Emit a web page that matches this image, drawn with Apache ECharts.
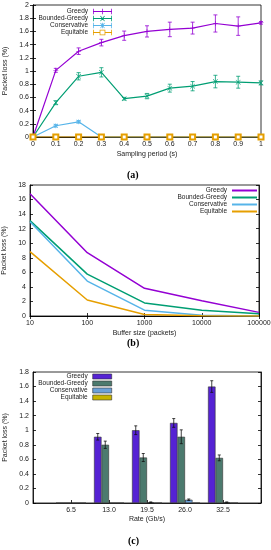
<!DOCTYPE html>
<html><head><meta charset="utf-8">
<script src="https://cdn.jsdelivr.net/npm/echarts@6/dist/echarts.min.js"></script>
<style>html,body{margin:0;padding:0;background:#fff}#c{width:271px;height:550px}</style>
</head><body><div id="c"></div>
<script>
// ---------- (a) data ----------
const periods = [0, 0.1, 0.2, 0.3, 0.4, 0.5, 0.6, 0.7, 0.8, 0.9, 1.0];
const greedyA = [0, 1.01, 1.30, 1.43, 1.535, 1.60, 1.63, 1.65, 1.72, 1.68, 1.73];
const greedyAErr = [0, 0.03, 0.05, 0.05, 0.07, 0.085, 0.11, 0.09, 0.13, 0.14, 0.02];
const boundedA = [0, 0.52, 0.92, 0.98, 0.58, 0.62, 0.74, 0.77, 0.84, 0.83, 0.82];
const boundedAErr = [0, 0.03, 0.055, 0.07, 0.02, 0.04, 0.06, 0.07, 0.095, 0.09, 0.03];
const conservA = [0, 0.17, 0.23, 0, 0, 0, 0, 0, 0, 0, 0];
const conservAErr = [0, 0.02, 0.02, 0, 0, 0, 0, 0, 0, 0, 0];
const equitA = [0, 0, 0, 0, 0, 0, 0, 0, 0, 0, 0];
const equitAErr = [0, 0, 0, 0, 0, 0, 0, 0, 0, 0, 0];

// ---------- (b) data ----------
const bufferSizes = [10, 100, 1000, 10000, 100000];
const greedyB = [16.8, 8.7, 3.8, 2.1, 0.5];
const boundedB = [13.1, 5.75, 1.8, 0.8, 0.3];
const conservB = [12.95, 4.8, 0.8, 0.1, 0.0];
const equitB = [8.85, 2.2, 0.2, 0.05, 0.0];

// ---------- (c) data ----------
const rates = ['6.5', '13.0', '19.5', '26.0', '32.5'];
const greedyC = [0, 0.91, 1.0, 1.10, 1.60];
const greedyCErr = [0, 0.045, 0.06, 0.06, 0.08];
const boundedC = [0, 0.80, 0.625, 0.91, 0.62];
const boundedCErr = [0, 0.05, 0.055, 0.095, 0.04];
const conservC = [0, 0, 0.01, 0.045, 0.01];
const conservCErr = [0, 0, 0.005, 0.01, 0.005];
const equitC = [0, 0, 0, 0, 0];

const names = ['Greedy', 'Bounded-Greedy', 'Conservative', 'Equitable'];
const colA = ['#9400d3', '#009e73', '#56b4e9', '#e69f00'];
const colC = ['#5522d4', '#4c7a6e', '#6aa0d8', '#c8b400'];

const FONT = 'Liberation Sans';
const tickFont = {fontSize: 7, color: '#222', fontFamily: FONT};
const nameFont = {fontSize: 7, color: '#222', fontFamily: FONT};
const legFont = {fontSize: 6.5, color: '#222', fontFamily: FONT};

function pairs(xs, ys) { return xs.map((x, i) => [x, ys[i]]); }
function triples(xs, ys, es) { return xs.map((x, i) => [x, ys[i], es[i]]); }

function errRender(color, cap, offset) {
  return function (params, api) {
    const e = api.value(2);
    if (!e) return null;
    const x = api.value(0), y = api.value(1);
    const hi = api.coord([x, y + e]), lo = api.coord([x, y - e]);
    const cx = hi[0] + (offset || 0);
    const st = {stroke: color, lineWidth: 0.8};
    return {type: 'group', children: [
      {type: 'line', shape: {x1: cx, y1: hi[1], x2: cx, y2: lo[1]}, style: st},
      {type: 'line', shape: {x1: cx - cap, y1: hi[1], x2: cx + cap, y2: hi[1]}, style: st},
      {type: 'line', shape: {x1: cx - cap, y1: lo[1], x2: cx + cap, y2: lo[1]}, style: st}
    ]};
  };
}

// symbols / legend icons (styles)
const symPlus = 'path://M0,4.5h10v1h-10z M4.5,0h1v10h-1z';
const symCross = 'path://M0.7,0L10,9.3L9.3,10L0,0.7Z M9.3,0L10,0.7L0.7,10L0,9.3Z';
const symStar = 'path://M0,4.5h10v1h-10z M4.5,0h1v10h-1z M1.2,0.5L9.5,8.8L8.8,9.5L0.5,1.2Z M8.8,0.5L9.5,1.2L1.2,9.5L0.5,8.8Z';
const caps = 'M0,0h0.8v6h-0.8z M19.2,0h0.8v6h-0.8z';
const iconA = [
  'path://M0,2.6h20v0.8h-20z ' + caps + ' M9.6,0h0.8v6h-0.8z',
  'path://M0,2.6h20v0.8h-20z ' + caps + ' M7.5,0.5L8.2,0L12.5,5.5L11.8,6Z M11.8,0L12.5,0.5L8.2,6L7.5,5.5Z',
  'path://M0,2.6h20v0.8h-20z ' + caps + ' M9.6,0h0.8v6h-0.8z M7.5,0.5L8.2,0L12.5,5.5L11.8,6Z M11.8,0L12.5,0.5L8.2,6L7.5,5.5Z',
  'path://M0,2.6h7v0.8h-7z M13,2.6h7v0.8h-7z ' + caps + ' M7,0h6v6h-6z M7.8,0.8v4.4h4.4v-4.4z'
];
const iconB = 'path://M0,0h25v2h-25z';
const symA = [symPlus, symCross, symStar, 'emptyRect'];

const gbase = {show: true, borderColor: '#000', borderWidth: 0.8, containLabel: false, outerBoundsMode: 'none'};
const grids = [
  Object.assign({left: 33, right: 10, top: 5, height: 132}, gbase),
  Object.assign({left: 30, right: 12, top: 185, height: 131}, gbase),
  Object.assign({left: 33, right: 10, top: 372, height: 131}, gbase)
];

const axLine = {show: true, lineStyle: {color: '#000', width: 0.8}};
const axTick = {show: true, inside: true, length: 3, lineStyle: {color: '#000', width: 0.8}};

const xAxes = [
  {type: 'value', gridIndex: 0, min: 0, max: 1, interval: 0.1, axisLine: axLine, axisTick: axTick,
   splitLine: {show: false}, axisLabel: Object.assign({margin: 4, hideOverlap: false}, tickFont),
   name: 'Sampling period (s)', nameLocation: 'middle', nameGap: 14, nameTextStyle: nameFont},
  {type: 'value', gridIndex: 0, position: 'top', min: 0, max: 1, interval: 0.1, axisLine: axLine, axisTick: axTick,
   splitLine: {show: false}, axisLabel: {show: false}},
  {type: 'log', logBase: 10, gridIndex: 1, min: 10, max: 100000, axisLine: axLine, axisTick: axTick,
   splitLine: {show: false}, axisLabel: Object.assign({margin: 4, hideOverlap: false, formatter: v => String(Math.round(v))}, tickFont),
   name: 'Buffer size (packets)', nameLocation: 'middle', nameGap: 14, nameTextStyle: nameFont},
  {type: 'log', logBase: 10, gridIndex: 1, position: 'top', min: 10, max: 100000, axisLine: axLine, axisTick: axTick,
   splitLine: {show: false}, axisLabel: {show: false}},
  {type: 'category', gridIndex: 2, boundaryGap: false, data: [''].concat(rates, ['']),
   axisLine: axLine, axisTick: Object.assign({}, axTick, {alignWithLabel: true}),
   splitLine: {show: false}, axisLabel: Object.assign({margin: 4, interval: 0}, tickFont),
   name: 'Rate (Gb/s)', nameLocation: 'middle', nameGap: 13, nameTextStyle: nameFont}
];

const yAxes = [
  {type: 'value', gridIndex: 0, min: 0, max: 2, interval: 0.2, axisLine: axLine, axisTick: axTick,
   splitLine: {show: false}, axisLabel: Object.assign({margin: 4}, tickFont),
   name: 'Packet loss (%)', nameLocation: 'middle', nameGap: 22, nameTextStyle: nameFont},
  {type: 'value', gridIndex: 0, position: 'right', min: 0, max: 2, interval: 0.2, axisLine: axLine, axisTick: axTick,
   splitLine: {show: false}, axisLabel: {show: false}},
  {type: 'value', gridIndex: 1, min: 0, max: 18, interval: 2, axisLine: axLine, axisTick: axTick,
   splitLine: {show: false}, axisLabel: Object.assign({margin: 4}, tickFont),
   name: 'Packet loss (%)', nameLocation: 'middle', nameGap: 19, nameTextStyle: nameFont},
  {type: 'value', gridIndex: 1, position: 'right', min: 0, max: 18, interval: 2, axisLine: axLine, axisTick: axTick,
   splitLine: {show: false}, axisLabel: {show: false}},
  {type: 'value', gridIndex: 2, min: 0, max: 1.8, interval: 0.2, axisLine: axLine, axisTick: axTick,
   splitLine: {show: false}, axisLabel: Object.assign({margin: 4}, tickFont),
   name: 'Packet loss (%)', nameLocation: 'middle', nameGap: 22, nameTextStyle: nameFont},
  {type: 'value', gridIndex: 2, position: 'right', min: 0, max: 1.8, interval: 0.2, axisLine: axLine, axisTick: axTick,
   splitLine: {show: false}, axisLabel: {show: false}}
];

const series = [];
const legends = [];

// (a)
const aVals = [greedyA, boundedA, conservA, equitA];
const aErrs = [greedyAErr, boundedAErr, conservAErr, equitAErr];
aVals.forEach((vals, i) => {
  series.push({type: 'custom', name: 'errA' + i, xAxisIndex: 0, yAxisIndex: 0, silent: true, color: colA[i],
    renderItem: errRender(colA[i], 2), data: triples(periods, vals, aErrs[i]), encode: {x: 0, y: 1}, z: 2});
  series.push({type: 'line', name: names[i] + ' (a)', xAxisIndex: 0, yAxisIndex: 0, data: pairs(periods, vals),
    color: colA[i], lineStyle: {width: 1.2, color: colA[i]}, symbol: symA[i], symbolSize: 5,
    itemStyle: {color: colA[i], borderWidth: i === 3 ? 0.8 : 0, borderColor: colA[i]}, showSymbol: true, z: 3, animation: false});
  legends.push({data: [{name: names[i] + ' (a)', icon: iconA[i]}], right: 159, top: [8, 15, 22, 29][i], align: 'right',
    padding: 0, itemWidth: 19, itemHeight: 6, itemStyle: {borderWidth: 0, color: colA[i]}, textStyle: legFont,
    formatter: n => n.replace(' (a)', ''), selectedMode: false});
});

// (b)
const bVals = [greedyB, boundedB, conservB, equitB];
bVals.forEach((vals, i) => {
  series.push({type: 'line', name: names[i] + ' (b)', xAxisIndex: 2, yAxisIndex: 2, data: pairs(bufferSizes, vals),
    color: colA[i], lineStyle: {width: 1.5, color: colA[i]}, symbol: 'none', animation: false});
  legends.push({data: [{name: names[i] + ' (b)', icon: iconB}], right: 14, top: [187, 194, 201, 208][i], align: 'right',
    padding: 0, itemWidth: 25, itemHeight: 2, itemStyle: {borderWidth: 0, color: colA[i]}, textStyle: legFont,
    formatter: n => n.replace(' (b)', ''), selectedMode: false});
});

// (c)
const cVals = [greedyC, boundedC, conservC, equitC];
const cErrs = [greedyCErr, boundedCErr, conservCErr, null];
const cOffsets = [-11.25, -3.75, 3.75, 11.25];
cVals.forEach((vals, i) => {
  series.push({type: 'bar', name: names[i] + ' (c)', xAxisIndex: 4, yAxisIndex: 4,
    data: [null].concat(vals, [null]), barWidth: 7.5, barGap: '0%',
    itemStyle: {color: colC[i], borderColor: '#333', borderWidth: 0.6}, animation: false});
  legends.push({data: [names[i] + ' (c)'], right: 159, top: [373, 380, 387, 394][i], align: 'right',
    padding: 0, itemWidth: 19, itemHeight: 5, icon: 'rect', textStyle: legFont,
    itemStyle: {borderColor: '#333', borderWidth: 0.6},
    formatter: n => n.replace(' (c)', ''), selectedMode: false});
});
cErrs.forEach((errs, i) => {
  if (!errs) return;
  series.push({type: 'custom', name: 'errC' + i, xAxisIndex: 4, yAxisIndex: 4, silent: true,
    renderItem: errRender('#111', 1.5, cOffsets[i]),
    data: rates.map((r, k) => [k + 1, cVals[i][k], errs[k]]), encode: {x: 0, y: 1}, z: 5});
});

const capStyle = {fontSize: 10, fontWeight: 'bold', fontFamily: 'Liberation Serif', fill: '#000', textAlign: 'center', textVerticalAlign: 'middle'};
const option = {
  animation: false,
  grid: grids, xAxis: xAxes, yAxis: yAxes, series: series, legend: legends,
  graphic: [
    {type: 'text', left: 127, top: 170, style: Object.assign({text: '(a)'}, capStyle)},
    {type: 'text', left: 127, top: 338, style: Object.assign({text: '(b)'}, capStyle)},
    {type: 'text', left: 128, top: 536, style: Object.assign({text: '(c)'}, capStyle)}
  ]
};
const chart = echarts.init(document.getElementById('c'), null, {renderer: 'canvas'});
chart.setOption(option);
</script>
</body></html>
